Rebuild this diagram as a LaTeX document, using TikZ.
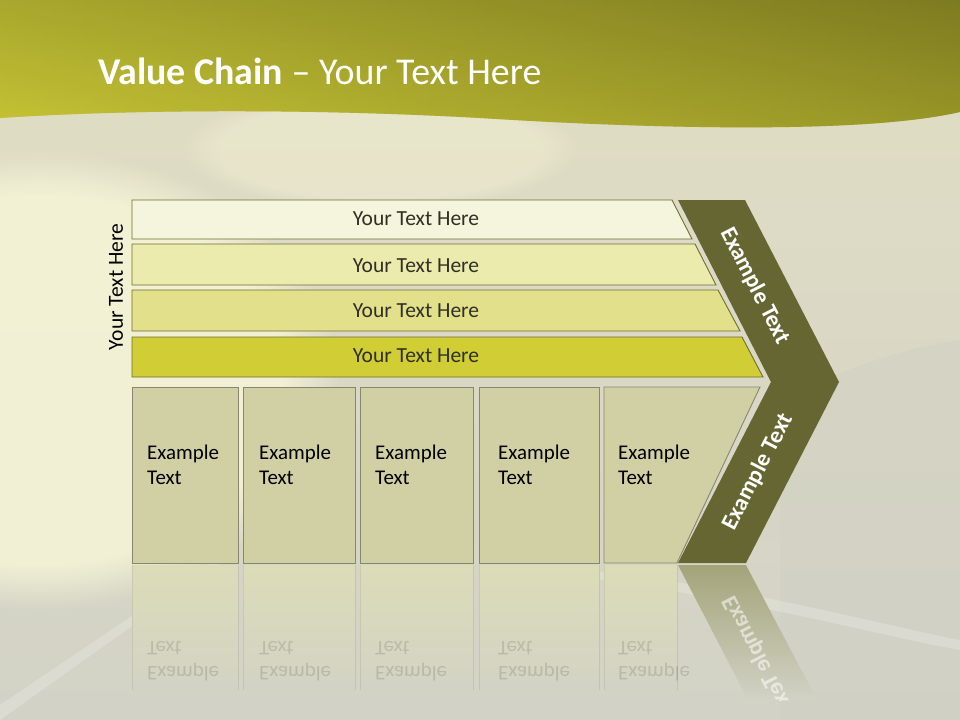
\documentclass[tikz,border=0pt]{standalone}
\usepackage{fontspec}
\setmainfont{Carlito}
\usepackage{tikz}
\usetikzlibrary{positioning, fadings}
\definecolor{bandtop}{RGB}{140, 138, 36}
\definecolor{bandbot}{RGB}{192, 190, 50}
\definecolor{bandlight}{RGB}{206, 204, 56}
\definecolor{banddark}{RGB}{108, 106, 28}
\definecolor{bgtop}{RGB}{226, 222, 196}
\definecolor{bgmid}{RGB}{234, 233, 204}
\definecolor{bgbot}{RGB}{210, 210, 198}
\definecolor{hill}{RGB}{206, 206, 196}
\definecolor{glow}{RGB}{248, 247, 216}
\definecolor{rowone}{RGB}{245, 244, 220}
\definecolor{rowtwo}{RGB}{236, 235, 174}
\definecolor{rowthree}{RGB}{226, 224, 138}
\definecolor{rowfour}{RGB}{208, 205, 53}
\definecolor{rowline}{RGB}{110, 110, 48}
\definecolor{cellfill}{RGB}{209, 208, 164}
\definecolor{cellline}{RGB}{135, 135, 112}
\definecolor{chevron}{RGB}{102, 102, 51}
\definecolor{reflcell}{RGB}{220, 220, 184}
\definecolor{reflchev}{RGB}{164, 164, 122}
\definecolor{textdark}{RGB}{48, 48, 36}

\begin{document}
\begin{tikzpicture}[
    x=1bp, y=1bp,
    rowbar/.style={draw=rowline, line width=0.9bp},
    rowtext/.style={font=\fontsize{21.6}{24}\selectfont, text=textdark, inner sep=0},
    cellbox/.style={draw=cellline, fill=cellfill, line width=0.9bp},
    celltext/.style={font=\fontsize{21}{25}\selectfont, text=black, align=left, anchor=west, inner sep=0},
    armtext/.style={font=\fontsize{23.5}{26}\selectfont\bfseries, text=white, inner sep=0},
    refltext/.style={font=\fontsize{21}{25}\selectfont, text=textdark, opacity=0.16, align=left, anchor=west, inner sep=0}
]
    \useasboundingbox (0,0) rectangle (960,-720);

    % background
    \shade[top color=bgtop, middle color=bgmid, bottom color=bgbot] (0,0) rectangle (960,-720);
    \fill[glow, opacity=0.8, path fading=circle with fuzzy edge 20 percent] (40,-380) ellipse (300 and 230);
    \fill[glow, opacity=0.35, path fading=circle with fuzzy edge 20 percent] (380,-150) ellipse (200 and 60);
    \fill[hill, opacity=0.35] (780,-400) .. controls (860,-360) and (920,-345) .. (960,-340) -- (960,-720) -- (780,-720) -- cycle;
    \fill[white, opacity=0.2] (0,-705) -- (215,-560) -- (225,-560) -- (0,-720) -- cycle;
    \fill[white, opacity=0.2] (600,-572) .. controls (760,-590) and (880,-625) .. (960,-640) -- (960,-650) .. controls (880,-636) and (760,-602) .. (600,-580) -- cycle;

    % top band
    \shade[top color=bandtop, bottom color=bandbot]
        (0,0) -- (0,-118) .. controls (120,-110) and (300,-108) .. (480,-118)
        .. controls (640,-128) and (860,-135) .. (960,-112) -- (960,0) -- cycle;
    \shade[left color=bandlight, right color=banddark, opacity=0.45]
        (0,0) -- (0,-118) .. controls (120,-110) and (300,-108) .. (480,-118)
        .. controls (640,-128) and (860,-135) .. (960,-112) -- (960,0) -- cycle;
    \node[anchor=base west, text=white, inner sep=0, font=\fontsize{38}{42}\selectfont] (title) at (98,-85)
        {\textbf{Value Chain} -- Your Text Here};

    % side label
    \node[rotate=90, font=\fontsize{21.6}{24}\selectfont, inner sep=0] (side) at (116,-287) {Your Text Here};

    % rows
    \draw[rowbar, fill=rowone] (132,-200) -- (672,-200) -- (692,-239) -- (132,-239) -- cycle;
    \draw[rowbar, fill=rowtwo] (132,-244) -- (695,-244) -- (716,-285) -- (132,-285) -- cycle;
    \draw[rowbar, fill=rowthree] (132,-290) -- (718,-290) -- (740,-331) -- (132,-331) -- cycle;
    \draw[rowbar, fill=rowfour] (132,-337) -- (742,-337) -- (763,-377) -- (132,-377) -- cycle;
    \node[rowtext] (rowA) at (416,-219) {Your Text Here};
    \node[rowtext] (rowB) at (416,-266) {Your Text Here};
    \node[rowtext] (rowC) at (416,-311) {Your Text Here};
    \node[rowtext] (rowD) at (416,-356) {Your Text Here};

    % chevron
    \fill[chevron] (678,-200) -- (745,-200) -- (839,-382) -- (746,-563) -- (678,-563) -- (771,-382) -- cycle;
    \node[armtext, rotate=-62.7] (armA) at (755,-286) {Example Text};
    \node[armtext, rotate=62.7] (armB) at (758,-472) {Example Text};

    % cells
    \draw[cellbox] (132,-387) rectangle (238,-563);
    \draw[cellbox] (243,-387) rectangle (355,-563);
    \draw[cellbox] (360,-387) rectangle (473,-563);
    \draw[cellbox] (479,-387) rectangle (599,-563);
    \draw[cellbox] (604,-387) -- (760,-387) -- (677,-563) -- (604,-563) -- cycle;
    \node[celltext] (cellA) at (147,-465) {Example\\Text};
    \node[celltext] (cellB) at (259,-465) {Example\\Text};
    \node[celltext] (cellC) at (375,-465) {Example\\Text};
    \node[celltext] (cellD) at (498,-465) {Example\\Text};
    \node[celltext] (cellE) at (618,-465) {Example\\Text};

    % reflection
    \foreach \xa/\xb in {132/238, 243/355, 360/473, 479/599, 604/677} {
        \shade[top color=reflcell, bottom color=bgbot] (\xa,-565) rectangle (\xb,-700);
        \draw[cellline, opacity=0.2] (\xa,-565) -- (\xa,-690) (\xb,-565) -- (\xb,-690);
    }
    \shade[top color=reflchev, bottom color=bgbot] (678,-565) -- (746,-565) -- (817,-700) -- (748,-700) -- cycle;
    \begin{scope}
        \clip (0,-565) rectangle (960,-700);
        \node[refltext, yscale=-1] (reflA) at (147,-661) {Example\\Text};
        \node[refltext, yscale=-1] (reflB) at (259,-661) {Example\\Text};
        \node[refltext, yscale=-1] (reflC) at (375,-661) {Example\\Text};
        \node[refltext, yscale=-1] (reflD) at (498,-661) {Example\\Text};
        \node[refltext, yscale=-1] (reflE) at (618,-661) {Example\\Text};
        \node[armtext, opacity=0.55, rotate=-62.7, yscale=-1] (reflF) at (758,-654) {Example Text};
    \end{scope}

\end{tikzpicture}
\end{document}
